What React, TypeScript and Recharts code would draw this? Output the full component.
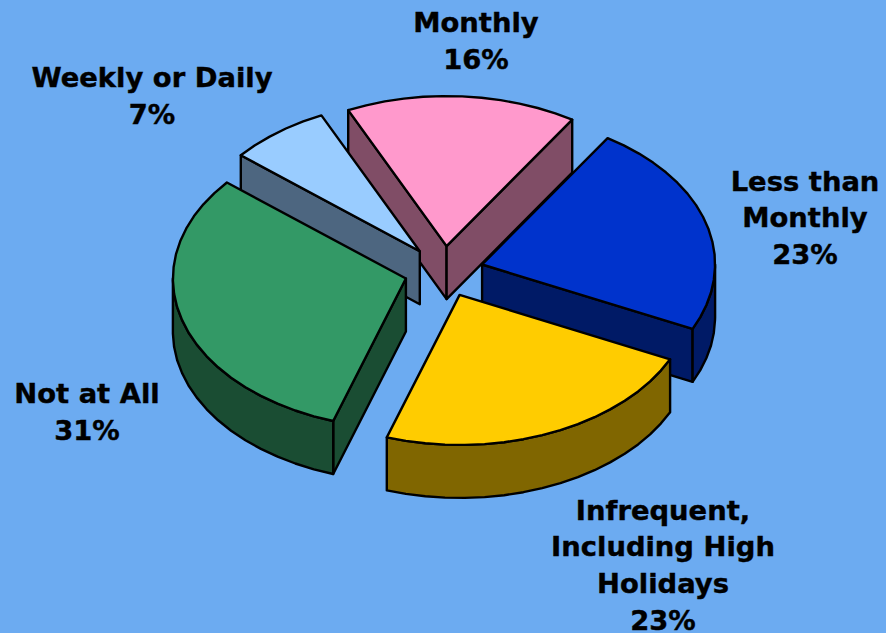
import React from "react";
import { PieChart, Pie } from "recharts";

const categories = ["Monthly", "Less than Monthly", "Infrequent, Including High Holidays", "Not at All", "Weekly or Daily"];
const shares = [16, 23, 23, 31, 7];
const labelLines = [["Monthly"], ["Less than", "Monthly"], ["Infrequent,", "Including High", "Holidays"], ["Not at All"], ["Weekly or Daily"]];
const topColors = ["#FF99CC", "#0033CC", "#FFCC00", "#339966", "#99CCFF"];
const sideColors = ["#804D66", "#001A66", "#806600", "#1A4D33", "#4D6680"];
const labelCenters: [number, number][] = [[476, 32], [805, 190.5], [663, 519.5], [87, 403], [152, 87]];

const backSlices = ["Monthly", "Weekly or Daily"];
const data = categories.map((name, i) => ({ name, value: shares[i], index: i }));

const W = 886, H = 633, CX = 444, CY = 271.5, RX = 233;
const SQUASH = 150 / 233, DEPTH = 53, EXPLODE = 0.17, STEP = 5;
const RAD = Math.PI / 180;

const pts = (list: number[][]) => list.map((p) => `${p[0].toFixed(1)},${p[1].toFixed(1)}`).join(" ");

function makeShape(group: "back" | "front") {
  return function WedgeShape(props: any) {
    const { cx, cy, outerRadius, startAngle, endAngle } = props;
    const name = props.name ?? props.payload?.name;
    const i = categories.indexOf(name);
    const isBack = backSlices.includes(name);
    if ((group === "back") !== isBack) return <g />;
    const r = outerRadius;
    const mid = ((startAngle + endAngle) / 2) * RAD;
    const ax = cx + EXPLODE * r * Math.cos(mid);
    const ay = cy - EXPLODE * r * SQUASH * Math.sin(mid);
    const at = (deg: number) => [ax + r * Math.cos(deg * RAD), ay - r * SQUASH * Math.sin(deg * RAD)];
    const n = Math.max(2, Math.round(Math.abs(startAngle - endAngle) / STEP));
    const angles: number[] = [];
    for (let k = 0; k <= n; k++) angles.push(startAngle + ((endAngle - startAngle) * k) / n);
    const arc = angles.map(at);

    // the rim only shows on the near half of the disc, so stop it at the disc's left and right extremes
    const extremes: number[] = [];
    for (let m = -360; m <= 360; m += 180) if (m < startAngle && m > endAngle) extremes.push(m);
    const rimAngles = [...angles, ...extremes]
      .filter((d) => Math.sin(d * RAD) <= 1e-6)
      .sort((a, b) => b - a);
    const rim = rimAngles.map(at);

    const down = (p: number[]) => [p[0], p[1] + DEPTH];
    const apex = [ax, ay];
    const first = arc[0], last = arc[arc.length - 1];
    const showFirst = Math.cos(startAngle * RAD) < 0;
    const showLast = Math.cos(endAngle * RAD) > 0;
    const sw = { stroke: "#000", strokeWidth: 2.4, strokeLinejoin: "round" as const };
    return (
      <g>
        {showFirst && <polygon points={pts([apex, first, down(first), down(apex)])} fill={sideColors[i]} {...sw} />}
        {showLast && <polygon points={pts([apex, last, down(last), down(apex)])} fill={sideColors[i]} {...sw} />}
        {rim.length > 1 && <polygon points={pts([...rim, ...rim.map(down).reverse()])} fill={sideColors[i]} {...sw} />}
        <polygon points={pts([apex, ...arc])} fill={topColors[i]} {...sw} />
      </g>
    );
  };
}

function renderLabel(props: any) {
  const i = categories.indexOf(props.name ?? props.payload?.name);
  const [x, y] = labelCenters[i];
  const lines = [...labelLines[i], `${shares[i]}%`];
  return (
    <text key={i} x={x} y={y} textAnchor="middle" fontFamily="'DejaVu Sans', Verdana, sans-serif" fontWeight="bold" fontSize={27.4} fill="#000" stroke="#000" strokeWidth={0.4}>
      {lines.map((t, k) => (
        <tspan key={k} x={x} y={y + k * 36.8}>{t}</tspan>
      ))}
    </text>
  );
}

export default function App() {
  const common = {
    data, dataKey: "value", nameKey: "name", cx: CX, cy: CY, innerRadius: 0, outerRadius: RX,
    startAngle: 115, endAngle: -245, isAnimationActive: false, stroke: "none",
  };
  return (
    <div style={{ position: "fixed", left: 0, top: 0, width: W, height: H, background: "#6CABF1", overflow: "hidden" }}>
      <PieChart width={W} height={H} margin={{ top: 0, right: 0, bottom: 0, left: 0 }}>
        <Pie {...common} shape={makeShape("back")} label={false} labelLine={false} />
        <Pie {...common} shape={makeShape("front")} label={renderLabel} labelLine={false} />
      </PieChart>
    </div>
  );
}
